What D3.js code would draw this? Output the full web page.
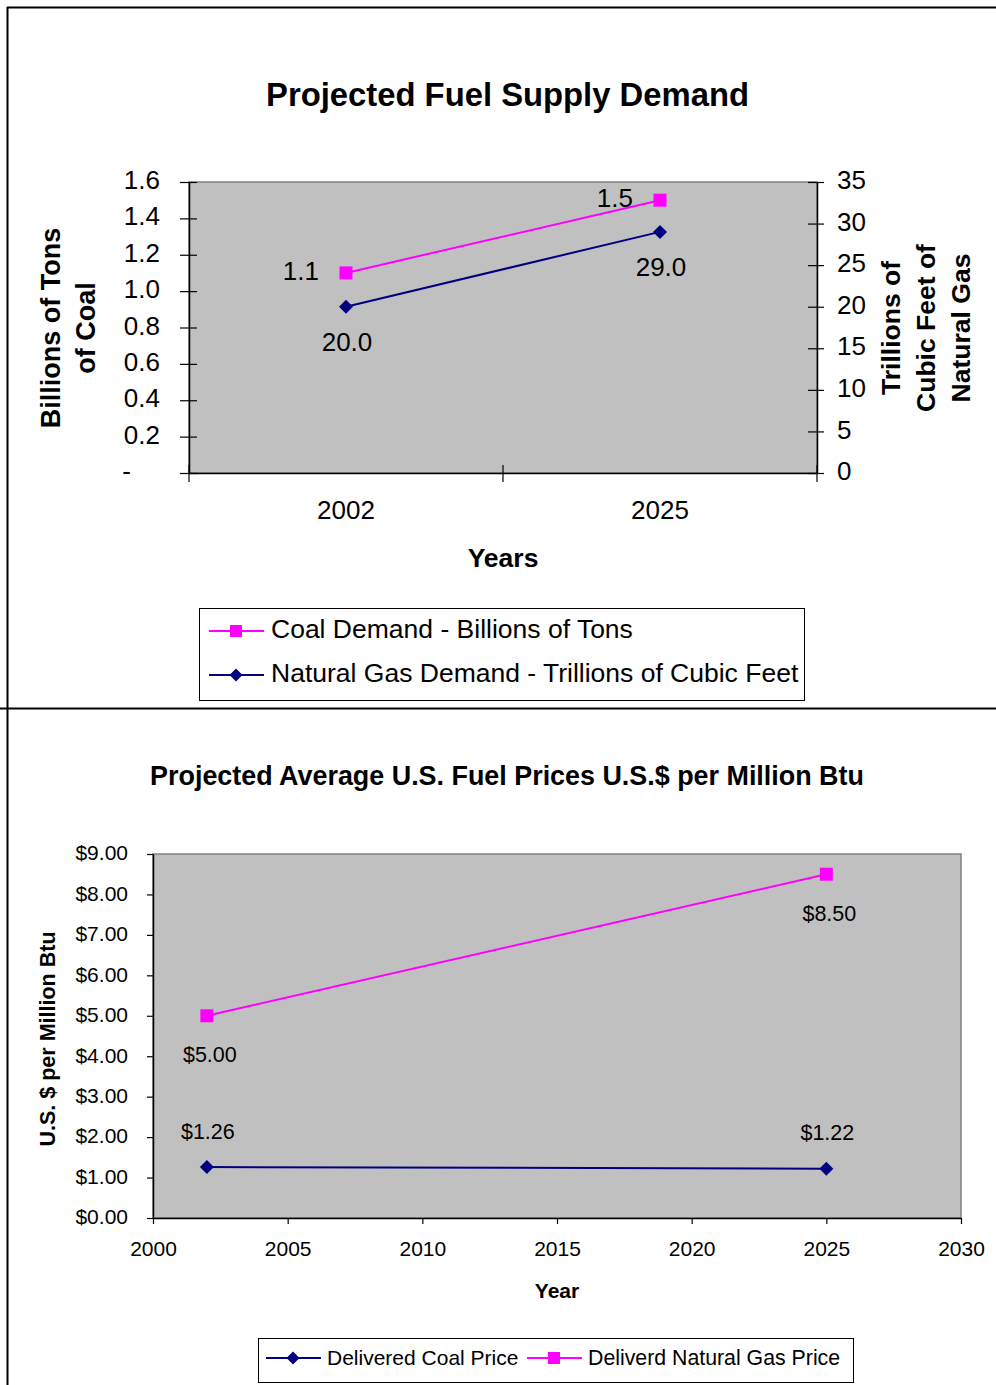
<!DOCTYPE html>
<html><head><meta charset="utf-8">
<script src="https://cdn.jsdelivr.net/npm/d3@7"></script>
<style>
body{margin:0;background:#fff}
svg{display:block}
text{font-family:"Liberation Sans",Arial,Helvetica,sans-serif;fill:#000}
</style>
</head><body>
<svg id="c" width="996" height="1385"></svg>
<script>
// ---------- DATA ----------
const demandCategories = ["2002", "2025"];
const coalDemand = [1.1, 1.5];          // billions of tons (left axis)
const gasDemand = [20.0, 29.0];         // trillions of cubic feet (right axis)
const coalDemandTicks = [0, 0.2, 0.4, 0.6, 0.8, 1.0, 1.2, 1.4, 1.6];
const gasDemandTicks = [0, 5, 10, 15, 20, 25, 30, 35];

const priceYears = [2002, 2025];
const coalPrice = [1.26, 1.22];
const gasPrice = [5.00, 8.50];
const priceTicks = [0, 1, 2, 3, 4, 5, 6, 7, 8, 9];
const yearTicks = [2000, 2005, 2010, 2015, 2020, 2025, 2030];

const MAGENTA = "#ff00ff", NAVY = "#000080";

const svg = d3.select("#c");

// ---------- FRAME ----------
const frame = svg.append("g").attr("stroke", "#000").attr("stroke-width", 2);
frame.append("line").attr("x1", 7).attr("x2", 996).attr("y1", 7.5).attr("y2", 7.5);
frame.append("line").attr("x1", 7.5).attr("x2", 7.5).attr("y1", 7).attr("y2", 1385);
frame.append("line").attr("x1", 0).attr("x2", 996).attr("y1", 708.5).attr("y2", 708.5);

function squareMarker(g, x, y, s, color) {
  g.append("path").attr("d", d3.symbol(d3.symbolSquare, s * s)())
    .attr("transform", `translate(${x},${y})`).attr("fill", color);
}
function diamondMarker(g, x, y, d, color) {
  const side = d / Math.SQRT2;
  g.append("path").attr("d", d3.symbol(d3.symbolSquare, side * side)())
    .attr("transform", `translate(${x},${y}) rotate(45)`).attr("fill", color);
}

// ================= TOP CHART =================
const T = {left: 189, right: 817, top: 182, bottom: 473};
const xCat = d3.scaleBand().domain(demandCategories).range([T.left, T.right]);
const bw = xCat.bandwidth();
const yCoal = d3.scaleLinear().domain([0, 1.6]).range([T.bottom, T.top]);
const yGas = d3.scaleLinear().domain([0, 35]).range([T.bottom, T.top]);

svg.append("text").attr("x", 507.5).attr("y", 95).attr("dy", "0.35em")
  .attr("text-anchor", "middle").attr("font-size", 32.8).attr("font-weight", "bold")
  .text("Projected Fuel Supply Demand");

svg.append("rect").attr("x", T.left).attr("y", T.top)
  .attr("width", T.right - T.left).attr("height", T.bottom - T.top)
  .attr("fill", "#c0c0c0").attr("stroke", "#808080").attr("stroke-width", 1.5);

// left axis
const gl = svg.append("g").attr("transform", `translate(${T.left},0)`)
  .call(d3.axisLeft(yCoal).tickValues(coalDemandTicks)
    .tickFormat(d => d === 0 ? "-" : d.toFixed(1)).tickSize(9).tickSizeOuter(0));
gl.attr("font-family", null).attr("font-size", null);
gl.select(".domain").attr("stroke", "#000").attr("stroke-width", 1.5);
gl.selectAll(".tick line").attr("x1", 8).attr("x2", -9).attr("stroke", "#000").attr("stroke-width", 1.2);
gl.selectAll(".tick text").attr("font-size", 26).attr("x", d => d === 0 ? -58 : -29)
  .attr("y", -2.5).attr("dy", "0.35em");

// right axis
const gr = svg.append("g").attr("transform", `translate(${T.right},0)`)
  .call(d3.axisRight(yGas).tickValues(gasDemandTicks).tickFormat(d3.format("d")).tickSize(7).tickSizeOuter(0));
gr.attr("font-family", null).attr("font-size", null);
gr.select(".domain").attr("stroke", "#000").attr("stroke-width", 1.5);
gr.selectAll(".tick line").attr("x1", -9).attr("x2", 7).attr("stroke", "#000").attr("stroke-width", 1.2);
gr.selectAll(".tick text").attr("font-size", 26).attr("x", 20).attr("y", -2.5).attr("dy", "0.35em");

// bottom category axis
const gb = svg.append("g").attr("transform", `translate(0,${T.bottom})`)
  .call(d3.axisBottom(xCat).tickSize(0).tickSizeOuter(0));
gb.attr("font-family", null).attr("font-size", null);
gb.select(".domain").attr("stroke", "#000").attr("stroke-width", 1.5);
gb.selectAll(".tick text").attr("font-size", 26).attr("y", 37).attr("dy", "0.35em");
const bounds = [xCat(demandCategories[0])].concat(demandCategories.map(c => xCat(c) + bw));
gb.selectAll(".bnd").data(bounds).join("line").attr("class", "bnd")
  .attr("x1", d => d).attr("x2", d => d).attr("y1", -8).attr("y2", 9)
  .attr("stroke", "#000").attr("stroke-width", 1.2);

svg.append("text").attr("x", 503).attr("y", 558).attr("dy", "0.35em")
  .attr("text-anchor", "middle").attr("font-size", 26.5).attr("font-weight", "bold").text("Years");

// axis titles
const lt = svg.append("text").attr("transform", "translate(51,328) rotate(-90)")
  .attr("text-anchor", "middle").attr("font-size", 27).attr("font-weight", "bold");
lt.append("tspan").attr("x", 0).attr("y", 0).attr("dy", "0.35em").text("Billions of Tons");
lt.append("tspan").attr("x", 0).attr("y", 35).attr("dy", "0.35em").text("of Coal");

const rt = svg.append("text").attr("transform", "translate(891,328) rotate(-90)")
  .attr("text-anchor", "middle").attr("font-size", 26.5).attr("font-weight", "bold");
["Trillions of", "Cubic Feet of", "Natural Gas"].forEach((s, i) =>
  rt.append("tspan").attr("x", 0).attr("y", i * 35).attr("dy", "0.35em").text(s));

// lines
const cx = c => xCat(c) + bw / 2;
svg.append("path").datum(coalDemand)
  .attr("d", d3.line().x((d, i) => cx(demandCategories[i])).y(d => yCoal(d)))
  .attr("fill", "none").attr("stroke", MAGENTA).attr("stroke-width", 2);
svg.append("path").datum(gasDemand)
  .attr("d", d3.line().x((d, i) => cx(demandCategories[i])).y(d => yGas(d)))
  .attr("fill", "none").attr("stroke", NAVY).attr("stroke-width", 2);
const mk = svg.append("g");
coalDemand.forEach((v, i) => squareMarker(mk, cx(demandCategories[i]), yCoal(v), 13, MAGENTA));
gasDemand.forEach((v, i) => diamondMarker(mk, cx(demandCategories[i]), yGas(v), 14, NAVY));

// data labels
coalDemand.forEach((v, i) => svg.append("text")
  .attr("x", cx(demandCategories[i]) - 27).attr("y", yCoal(v) - 2).attr("dy", "0.35em")
  .attr("text-anchor", "end").attr("font-size", 26).text(v.toFixed(1)));
gasDemand.forEach((v, i) => svg.append("text")
  .attr("x", cx(demandCategories[i]) + 1).attr("y", yGas(v) + 35).attr("dy", "0.35em")
  .attr("text-anchor", "middle").attr("font-size", 26).text(v.toFixed(1)));

// legend top
const lg1 = svg.append("g");
lg1.append("rect").attr("x", 199.5).attr("y", 608.5).attr("width", 605).attr("height", 92)
  .attr("fill", "#fff").attr("stroke", "#000").attr("stroke-width", 1);
[
  {label: "Coal Demand - Billions of Tons", color: MAGENTA, m: "sq", y: 631},
  {label: "Natural Gas Demand - Trillions of Cubic Feet", color: NAVY, m: "di", y: 675}
].forEach(e => {
  lg1.append("line").attr("x1", 209).attr("x2", 264).attr("y1", e.y).attr("y2", e.y)
    .attr("stroke", e.color).attr("stroke-width", 2);
  if (e.m === "sq") squareMarker(lg1, 236, e.y, 12, e.color); else diamondMarker(lg1, 236, e.y, 13, e.color);
  lg1.append("text").attr("x", 271).attr("y", e.y - 2.5).attr("dy", "0.35em")
    .attr("font-size", 26.5).text(e.label);
});

// ================= BOTTOM CHART =================
const B = {left: 153, right: 961, top: 854, bottom: 1218};
const xYear = d3.scaleLinear().domain([2000, 2030]).range([B.left, B.right]);
const yPrice = d3.scaleLinear().domain([0, 9]).range([B.bottom, B.top]);

svg.append("text").attr("x", 507).attr("y", 776).attr("dy", "0.35em")
  .attr("text-anchor", "middle").attr("font-size", 26.9).attr("font-weight", "bold")
  .text("Projected Average U.S. Fuel Prices U.S.$ per Million Btu");

svg.append("rect").attr("x", B.left).attr("y", B.top)
  .attr("width", B.right - B.left).attr("height", B.bottom - B.top)
  .attr("fill", "#c0c0c0").attr("stroke", "#808080").attr("stroke-width", 1.5);

const bl = svg.append("g").attr("transform", `translate(${B.left},0)`)
  .call(d3.axisLeft(yPrice).tickValues(priceTicks).tickFormat(d => "$" + d.toFixed(2)).tickSize(6).tickSizeOuter(0));
bl.attr("font-family", null).attr("font-size", null);
bl.select(".domain").attr("stroke", "#000").attr("stroke-width", 1.5);
bl.selectAll(".tick line").attr("stroke", "#000").attr("stroke-width", 1.2);
bl.selectAll(".tick text").attr("font-size", 21).attr("x", -25).attr("y", -1.5).attr("dy", "0.35em");

const bb = svg.append("g").attr("transform", `translate(0,${B.bottom})`)
  .call(d3.axisBottom(xYear).tickValues(yearTicks).tickFormat(d3.format("d")).tickSize(6).tickSizeOuter(0));
bb.attr("font-family", null).attr("font-size", null);
bb.select(".domain").attr("stroke", "#000").attr("stroke-width", 1.5);
bb.selectAll(".tick line").attr("stroke", "#000").attr("stroke-width", 1.2);
bb.selectAll(".tick text").attr("font-size", 21).attr("y", 31).attr("dy", "0.35em");

svg.append("text").attr("x", 557).attr("y", 1291).attr("dy", "0.35em")
  .attr("text-anchor", "middle").attr("font-size", 21).attr("font-weight", "bold").text("Year");

svg.append("text").attr("transform", "translate(47,1039) rotate(-90)").attr("dy", "0.35em")
  .attr("text-anchor", "middle").attr("font-size", 21.5).attr("font-weight", "bold")
  .text("U.S. $ per Million Btu");

svg.append("path").datum(gasPrice)
  .attr("d", d3.line().x((d, i) => xYear(priceYears[i])).y(d => yPrice(d)))
  .attr("fill", "none").attr("stroke", MAGENTA).attr("stroke-width", 2);
svg.append("path").datum(coalPrice)
  .attr("d", d3.line().x((d, i) => xYear(priceYears[i])).y(d => yPrice(d)))
  .attr("fill", "none").attr("stroke", NAVY).attr("stroke-width", 2);
const mk2 = svg.append("g");
gasPrice.forEach((v, i) => squareMarker(mk2, xYear(priceYears[i]), yPrice(v), 13, MAGENTA));
coalPrice.forEach((v, i) => diamondMarker(mk2, xYear(priceYears[i]), yPrice(v), 14, NAVY));

gasPrice.forEach((v, i) => svg.append("text")
  .attr("x", xYear(priceYears[i]) + 3).attr("y", yPrice(v) + 39).attr("dy", "0.35em")
  .attr("text-anchor", "middle").attr("font-size", 21.5).text("$" + v.toFixed(2)));
coalPrice.forEach((v, i) => svg.append("text")
  .attr("x", xYear(priceYears[i]) + 1).attr("y", yPrice(v) - 36).attr("dy", "0.35em")
  .attr("text-anchor", "middle").attr("font-size", 21.5).text("$" + v.toFixed(2)));

// legend bottom
const lg2 = svg.append("g");
lg2.append("rect").attr("x", 258.5).attr("y", 1338.5).attr("width", 595).attr("height", 44)
  .attr("fill", "#fff").attr("stroke", "#000").attr("stroke-width", 1);
[
  {label: "Delivered Coal Price", color: NAVY, m: "di", x0: 266},
  {label: "Deliverd Natural Gas Price", color: MAGENTA, m: "sq", x0: 527}
].forEach(e => {
  const y = 1358;
  lg2.append("line").attr("x1", e.x0).attr("x2", e.x0 + 55).attr("y1", y).attr("y2", y)
    .attr("stroke", e.color).attr("stroke-width", 2);
  if (e.m === "sq") squareMarker(lg2, e.x0 + 27, y, 12, e.color); else diamondMarker(lg2, e.x0 + 27, y, 13, e.color);
  lg2.append("text").attr("x", e.x0 + 61).attr("y", y).attr("dy", "0.35em")
    .attr("font-size", e.m === "sq" ? 21.3 : 21).text(e.label);
});
</script>
</body></html>
